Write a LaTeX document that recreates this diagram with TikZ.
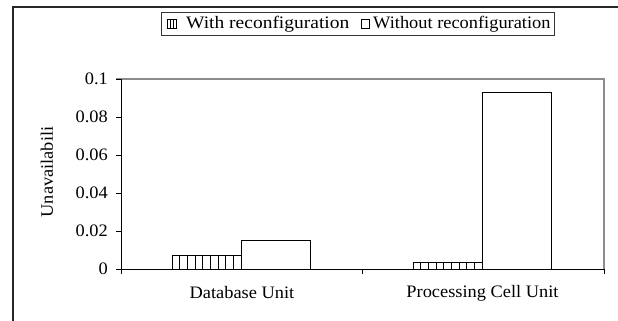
\documentclass[tikz,border=0pt]{standalone}
\usepackage{fontspec}
\setmainfont[FakeStretch=1.05]{Liberation Serif}
\tikzset{
  frameline/.style={draw=black!85, line width=1.4pt},
  plotborder/.style={draw=black!45, line width=1.2pt},
  axisline/.style={draw=black, line width=0.9pt},
  barbox/.style={draw=black, line width=1pt, fill=white},
  hatchline/.style={draw=black, line width=0.7pt},
  ticklabel/.style={anchor=east, inner sep=0pt},
  lbl/.style={inner sep=0pt},
}
\begin{document}
\begin{tikzpicture}[x=1pt,y=-1pt,font=\fontsize{17.5}{19}\selectfont]
\useasboundingbox (0,0) rectangle (618,321);
% outer frame
\coordinate (fa) at (618,7);
\coordinate (fb) at (13,7);
\coordinate (fc) at (13,321);
\draw[frameline] (fa) -- (fb) -- (fc);
% legend
\node[draw=black!80, line width=0.9pt, minimum width=393pt, minimum height=23pt, inner sep=0pt] (legend) at (357.5,23.5) {};
\draw[black, line width=0.9pt] (167.5,19.5) rectangle (176,28);
\foreach \x in {170.3,173.1} \draw[black, line width=0.8pt] (\x,19.5) -- (\x,28);
\node[lbl, anchor=west, xscale=1.06] (l1) at (186,24) {With reconfiguration};
\draw[black, line width=0.9pt] (361,19.5) rectangle (369.5,28);
\node[lbl, anchor=west] (l2) at (373,24) {Without reconfiguration};
% plot area border
\coordinate (pa) at (121,79);
\coordinate (pb) at (604,79);
\coordinate (pc) at (604,269);
\draw[plotborder] (116,79) -- (pb) -- (pc);
% bars
\draw[barbox] (172,269) rectangle (241,255.7);
\foreach \k in {1,...,8} \draw[hatchline] ({172+7.67*\k},255.7) -- ({172+7.67*\k},269);
\draw[barbox] (241,269) rectangle (310,240.5);
\draw[barbox] (413,269) rectangle (482,262.4);
\foreach \k in {1,...,8} \draw[hatchline] ({413+7.67*\k},262.4) -- ({413+7.67*\k},269);
\draw[barbox] (482,269) rectangle (551,92.3);
% axes
\coordinate (o) at (121,269);
\draw[axisline] (121,79) -- (o) -- (pc);
\foreach \v/\t in {0/0,0.02/0.02,0.04/0.04,0.06/0.06,0.08/0.08,0.1/0.1} {
  \draw[axisline] (116,{269-1900*\v}) -- (121,{269-1900*\v});
  \node[ticklabel] at (108,{269-1900*\v}) {\t};
}
\foreach \x in {121,362.5,604} \draw[axisline] (\x,269) -- (\x,274);
% labels
\node[lbl, rotate=90] (yt) at (47,172) {Unavailabili};
\node[lbl] (c1) at (242,293) {Database Unit};
\node[lbl] (c2) at (482.5,293) {Processing Cell Unit};
\end{tikzpicture}
\end{document}
